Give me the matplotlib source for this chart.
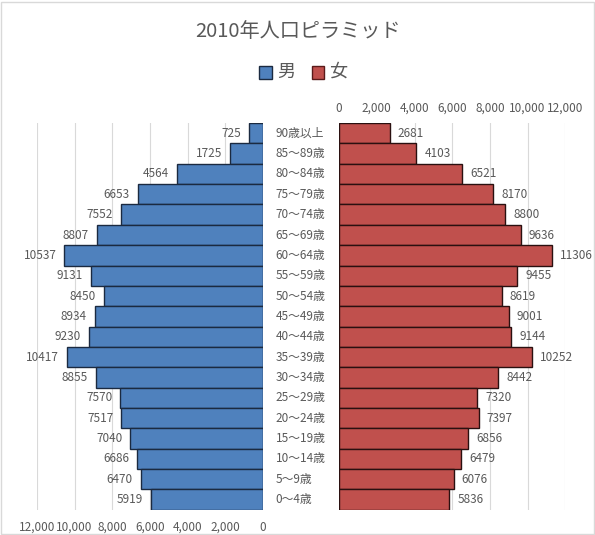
import matplotlib
matplotlib.use('Agg')
import matplotlib.pyplot as plt
from matplotlib.patches import Rectangle
import numpy as np

plt.rcParams['font.family'] = ['Noto Sans CJK JP', 'DejaVu Sans']

# 年齢階級（上から）
age_labels = ['90歳以上', '85～89歳', '80～84歳', '75～79歳', '70～74歳', '65～69歳',
              '60～64歳', '55～59歳', '50～54歳', '45～49歳', '40～44歳', '35～39歳',
              '30～34歳', '25～29歳', '20～24歳', '15～19歳', '10～14歳', '5～9歳', '0～4歳']
male = [725, 1725, 4564, 6653, 7552, 8807, 10537, 9131, 8450, 8934, 9230, 10417,
        8855, 7570, 7517, 7040, 6686, 6470, 5919]
female = [2681, 4103, 6521, 8170, 8800, 9636, 11306, 9455, 8619, 9001, 9144, 10252,
          8442, 7320, 7397, 6856, 6479, 6076, 5836]
ticks = [0, 2000, 4000, 6000, 8000, 10000, 12000]

blue = '#4F81BD'
red = '#C0504D'
txt = '#595959'

fig = plt.figure(figsize=(5.95, 5.35), dpi=100)
fig.patches.append(Rectangle((0.002, 0.002), 0.996, 0.994, transform=fig.transFigure,
                             fill=False, edgecolor='#d9d9d9', linewidth=1))

y = np.arange(len(age_labels))
axL = fig.add_axes([0.062, 0.047, 0.380, 0.723])
axR = fig.add_axes([0.570, 0.047, 0.380, 0.723])

axL.barh(y, male, height=1.0, color=blue, edgecolor='#1b2a40', linewidth=1.0, zorder=3)
axR.barh(y, female, height=1.0, color=red, edgecolor='#2a1010', linewidth=1.0, zorder=3)

for ax in (axL, axR):
    ax.set_xlim(0, 12000)
    ax.set_ylim(len(age_labels) - 0.5, -0.5)
    ax.set_xticks(ticks)
    ax.set_xticklabels(['{:,}'.format(t) for t in ticks])
    ax.set_yticks([])
    ax.grid(axis='x', color='#d9d9d9', linewidth=0.8, zorder=0)
    for s in ax.spines.values():
        s.set_visible(False)
    ax.tick_params(axis='x', length=0, labelsize=8.5, labelcolor=txt, pad=8)

axL.invert_xaxis()
axR.xaxis.tick_top()
axR.tick_params(axis='x', pad=6)

for i, v in enumerate(male):
    axL.text(v + 430, i, str(v), ha='right', va='center', fontsize=8.5, color=txt)
for i, v in enumerate(female):
    axR.text(v + 430, i, str(v), ha='left', va='center', fontsize=8.5, color=txt)

# 中央のラベル
for i, lab in enumerate(age_labels):
    yy = axL.transData.transform((0, i))[1]
    fy = fig.transFigure.inverted().transform((0, yy))[1]
    fig.text(0.463, fy, lab, ha='left', va='center', fontsize=8.5, color=txt)

fig.text(0.5, 0.942, '2010年人口ピラミッド', ha='center', va='center', fontsize=14.5, color=txt)

# 凡例
fig.patches.append(Rectangle((0.436, 0.853), 0.021, 0.024, transform=fig.transFigure,
                             facecolor=blue, edgecolor='#1b2a40', linewidth=1))
fig.text(0.466, 0.866, '男', ha='left', va='center', fontsize=13, color=txt)
fig.patches.append(Rectangle((0.524, 0.853), 0.021, 0.024, transform=fig.transFigure,
                             facecolor=red, edgecolor='#5a1a1a', linewidth=1))
fig.text(0.553, 0.866, '女', ha='left', va='center', fontsize=13, color=txt)

fig.savefig('out.png', dpi=100)
